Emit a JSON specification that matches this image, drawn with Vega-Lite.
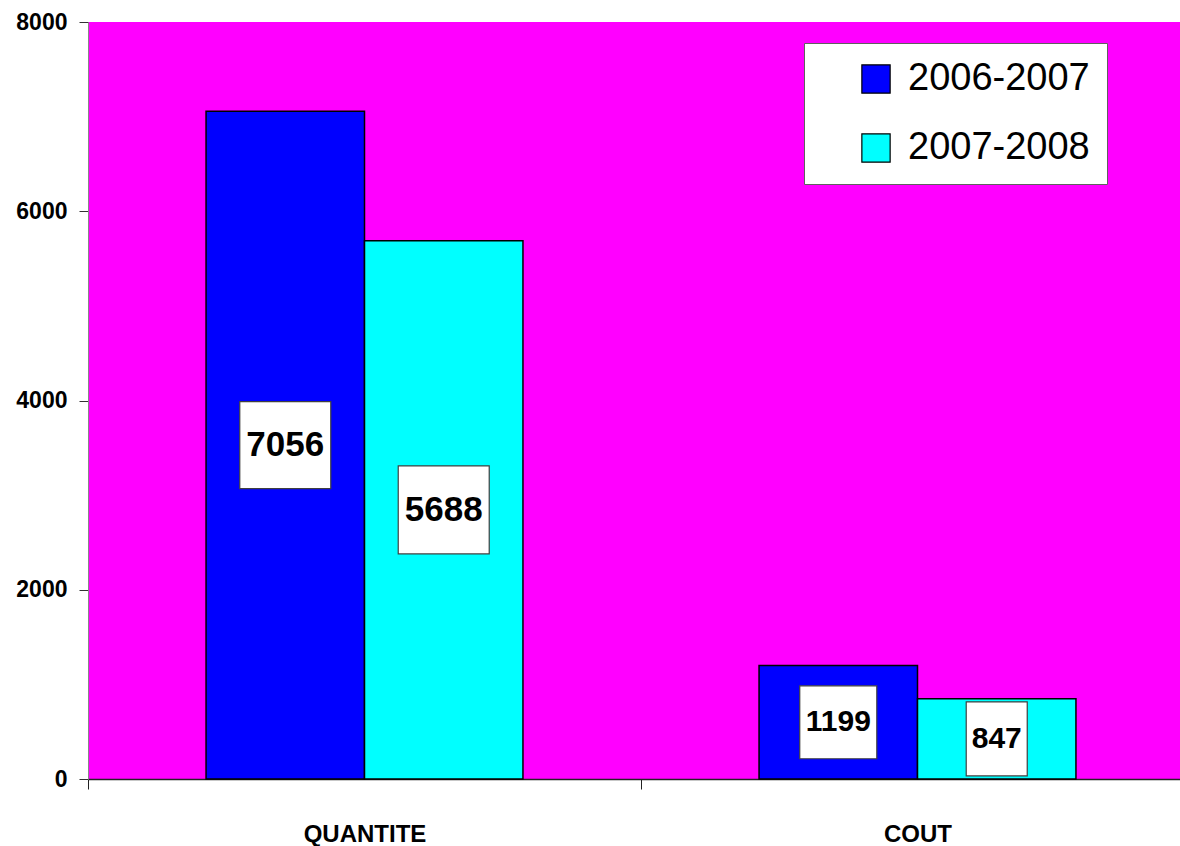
{
  "$schema": "https://vega.github.io/schema/vega-lite/v6.json",
  "autosize": {"type": "none"},
  "padding": {"left": 88, "top": 22, "right": 0, "bottom": 67},
  "width": 1092,
  "height": 757,
  "background": "white",
  "config": {
    "view": {"fill": "#FF00FF", "stroke": null},
    "font": "Liberation Sans"
  },
  "data": {
    "values": [
      {"category": "QUANTITE", "period": "2006-2007", "value": 7056},
      {"category": "QUANTITE", "period": "2007-2008", "value": 5688},
      {"category": "COUT", "period": "2006-2007", "value": 1199},
      {"category": "COUT", "period": "2007-2008", "value": 847}
    ]
  },
  "encoding": {
    "x": {
      "field": "category",
      "type": "nominal",
      "sort": ["QUANTITE", "COUT"],
      "scale": {"range": [0, 1106], "paddingInner": 0, "paddingOuter": 0},
      "axis": {
        "title": null,
        "labelAngle": 0,
        "tickBand": "extent",
        "tickSize": 10,
        "tickColor": "#222222",
        "domainColor": "#222222",
        "domainWidth": 1.5,
        "labelFont": "Liberation Sans",
        "labelFontSize": 24,
        "labelFontWeight": "bold",
        "labelColor": "black",
        "labelBaseline": "top",
        "labelPadding": 33
      }
    },
    "xOffset": {
      "field": "period",
      "type": "nominal",
      "sort": ["2006-2007", "2007-2008"],
      "scale": {"paddingInner": 0, "paddingOuter": 0.745}
    }
  },
  "layer": [
    {
      "mark": {"type": "bar", "stroke": "black", "strokeWidth": 1.5},
      "encoding": {
        "y": {
          "field": "value",
          "type": "quantitative",
          "scale": {"domain": [0, 8000], "nice": false},
          "axis": {
            "title": null,
            "values": [0, 2000, 4000, 6000, 8000],
            "format": "d",
            "grid": false,
            "tickSize": 9,
            "tickColor": "#333333",
            "domainColor": "#888888",
            "labelFont": "Liberation Sans",
            "labelFontSize": 23,
            "labelFontWeight": "bold",
            "labelColor": "black",
            "labelPadding": 12
          }
        },
        "color": {
          "field": "period",
          "type": "nominal",
          "scale": {"domain": ["2006-2007", "2007-2008"], "range": ["#0000FF", "#00FFFF"]},
          "legend": {
            "title": null,
            "orient": "none",
            "legendX": 716,
            "legendY": 21,
            "fillColor": "white",
            "strokeColor": "#606060",
            "padding": 17,
            "symbolOffset": 36,
            "symbolType": "square",
            "symbolSize": 800,
            "symbolStrokeColor": "black",
            "symbolStrokeWidth": 1.2,
            "labelFont": "Liberation Sans",
            "labelFontSize": 38,
            "labelColor": "black",
            "labelLimit": 500,
            "labelOffset": 13,
            "rowPadding": 31
          }
        }
      }
    },
    {
      "mark": {"type": "point", "filled": true, "fill": "white", "stroke": "#404040", "strokeWidth": 1.2, "opacity": 1, "size": 8100},
      "encoding": {
        "y": {"field": "value", "type": "quantitative", "scale": {"domain": [0, 16000], "nice": false}, "axis": null},
        "shape": {
          "field": "value",
          "type": "nominal",
          "scale": {
            "domain": [7056, 5688, 1199, 847],
            "range": [
              "M-1.011,-0.967H1.011V0.967H-1.011Z",
              "M-1.011,-0.978H1.011V0.978H-1.011Z",
              "M-0.856,-0.811H0.856V0.811H-0.856Z",
              "M-0.678,-0.822H0.678V0.822H-0.678Z"
            ]
          },
          "legend": null
        }
      }
    },
    {
      "mark": {"type": "text", "font": "Liberation Sans", "fontWeight": "bold", "color": "black", "baseline": "middle", "align": "center"},
      "encoding": {
        "y": {"field": "value", "type": "quantitative", "scale": {"domain": [0, 16000], "nice": false}, "axis": null},
        "text": {"field": "value", "type": "quantitative", "format": "d"},
        "size": {"condition": {"test": "datum.value > 3000", "value": 35}, "value": 30}
      }
    }
  ],
  "resolve": {"scale": {"y": "independent", "shape": "independent"}}
}
